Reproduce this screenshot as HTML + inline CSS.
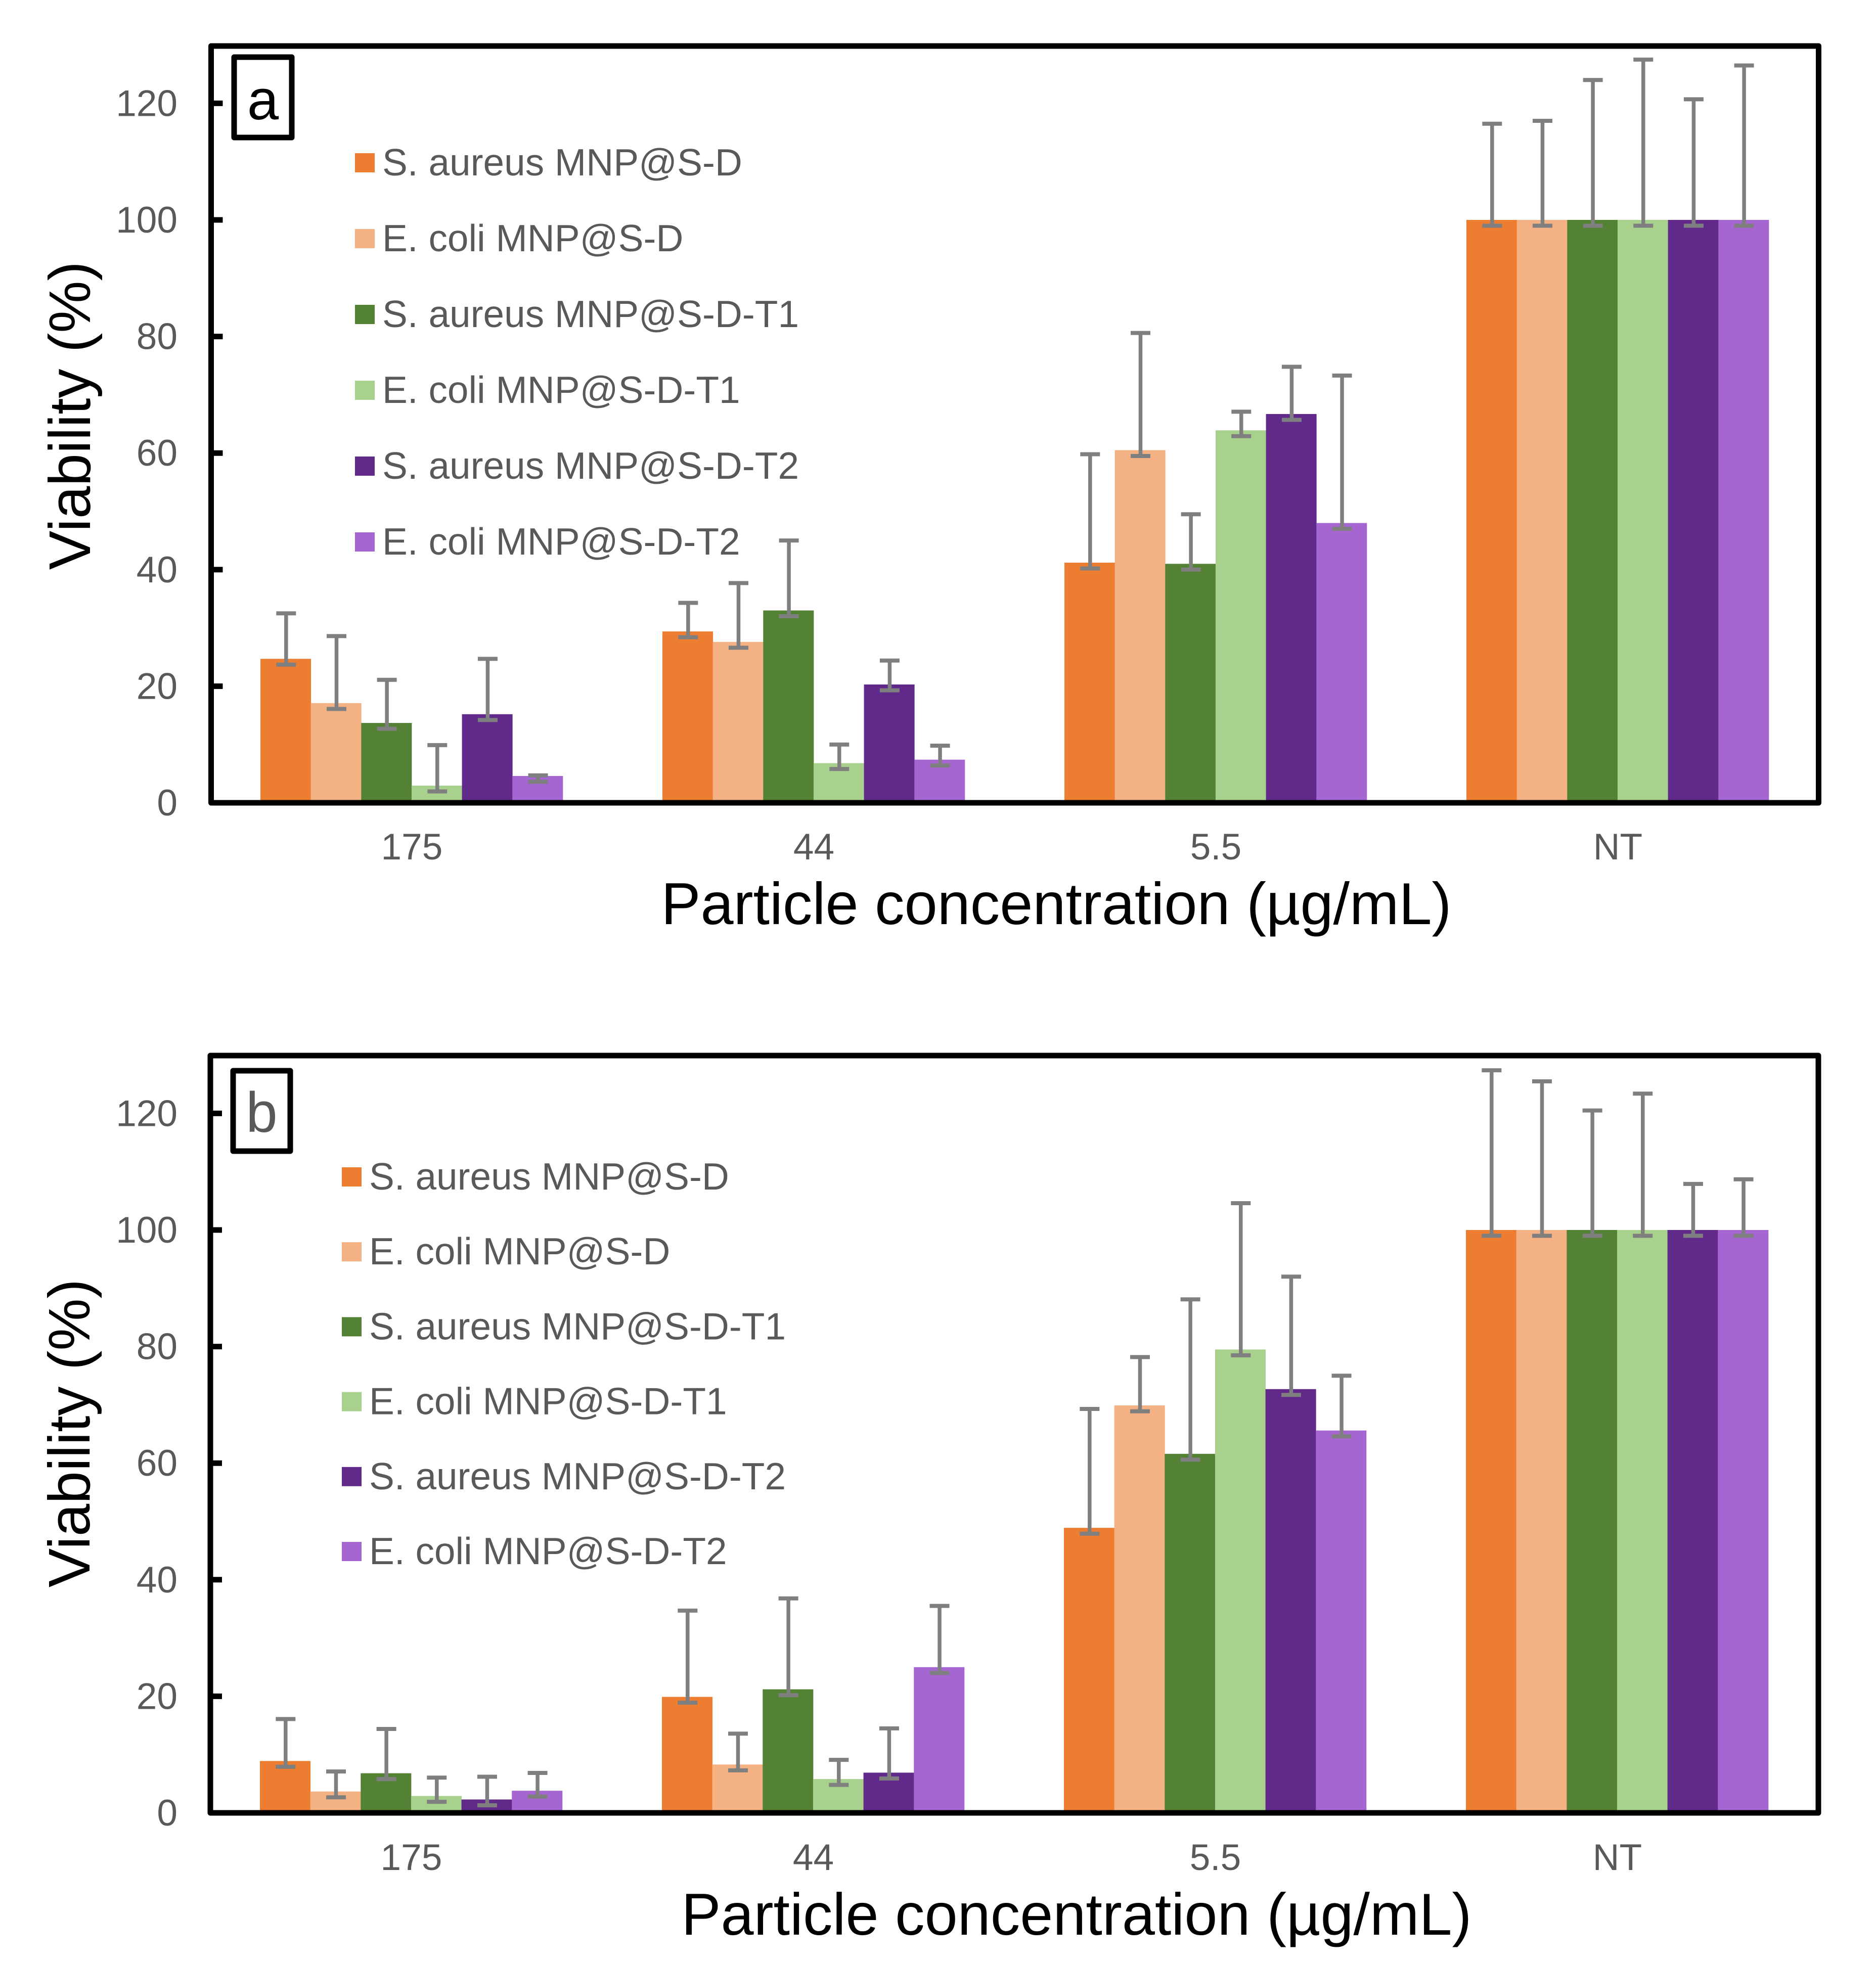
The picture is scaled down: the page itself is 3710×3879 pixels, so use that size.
<!DOCTYPE html>
<html lang="en">
<head>
<meta charset="utf-8">
<title>Viability charts</title>
<style>
html,body{margin:0;padding:0;background:#fff;width:3710px;height:3879px;overflow:hidden}
svg{display:block;font-family:"Liberation Sans",Arial,sans-serif}
</style>
</head>
<body>
<svg id="figure" xmlns="http://www.w3.org/2000/svg" width="3710" height="3879" viewBox="0 0 3710 3879"></svg>
<script>
const categories = ["175", "44", "5.5", "NT"];
const seriesNames = ["S. aureus MNP@S-D", "E. coli MNP@S-D", "S. aureus MNP@S-D-T1", "E. coli MNP@S-D-T1", "S. aureus MNP@S-D-T2", "E. coli MNP@S-D-T2"];
const seriesKeys = ["s-aureus-d", "e-coli-d", "s-aureus-t1", "e-coli-t1", "s-aureus-t2", "e-coli-t2"];
const yTicks = [0, 20, 40, 60, 80, 100, 120];
const yMax = 130;
const lowerError = 1;

const aSaureusD = [24.7, 29.4, 41.2, 100];
const aEcoliD = [17.1, 27.6, 60.5, 100];
const aSaureusT1 = [13.7, 33, 41, 100];
const aEcoliT1 = [2.95, 6.8, 63.9, 100];
const aSaureusT2 = [15.2, 20.3, 66.7, 100];
const aEcoliT2 = [4.6, 7.4, 48, 100];
const aSaureusDErr = [7.8, 4.9, 18.6, 16.5];
const aEcoliDErr = [11.5, 10.1, 20.1, 17];
const aSaureusT1Err = [7.4, 12, 8.5, 24];
const aEcoliT1Err = [6.95, 3.2, 3.2, 27.5];
const aSaureusT2Err = [9.5, 4.1, 8.1, 20.7];
const aEcoliT2Err = [0.1, 2.4, 25.3, 26.5];

const bSaureusD = [8.9, 19.9, 48.9, 100];
const bEcoliD = [3.67, 8.3, 69.9, 100];
const bSaureusT1 = [6.8, 21.2, 61.6, 100];
const bEcoliT1 = [2.9, 5.8, 79.5, 100];
const bSaureusT2 = [2.3, 6.9, 72.7, 100];
const bEcoliT2 = [3.8, 25, 65.6, 100];
const bSaureusDErr = [7.2, 14.8, 20.4, 27.4];
const bEcoliDErr = [3.43, 5.3, 8.3, 25.5];
const bSaureusT1Err = [7.6, 15.6, 26.5, 20.5];
const bEcoliT1Err = [3.15, 3.3, 25.1, 23.4];
const bSaureusT2Err = [3.9, 7.6, 19.3, 7.9];
const bEcoliT2Err = [3.05, 10.5, 9.4, 8.7];

const colors = ["#ED7D31", "#F4B183", "#548235", "#A9D18E", "#612A8A", "#A566D1"];

const SVGNS = "http://www.w3.org/2000/svg";
const root = document.getElementById("figure");

function make(parent, tag, attrs, text) {
  const el = document.createElementNS(SVGNS, tag);
  for (const k in attrs) el.setAttribute(k, attrs[k]);
  if (text !== undefined) el.textContent = text;
  parent.appendChild(el);
  return el;
}

function drawPanel(p) {
  const yScale = v => p.y0 - v * p.yUnit;
  const xBar = (g, s) => p.barStart + g * p.groupStep + s * p.barW;

  const panel = make(root, "g", {});
  
  

  // bars
  p.values.forEach((vals, s) => {
    vals.forEach((v, g) => {
      const bar = make(panel, "rect", {
        x: xBar(g, s), y: yScale(v),
        width: p.barW + 0.4, height: Math.max(0, p.y0 - yScale(v)),
        fill: colors[s]
      });
      
      
    });
  });

  // error bars
  p.values.forEach((vals, s) => {
    vals.forEach((v, g) => {
      const cx = xBar(g, s) + p.barW / 2 + 1;
      const top = yScale(v + p.errors[s][g]);
      const bottom = yScale(v - lowerError);
      const err = make(panel, "g", { stroke: "#7F7F7F", fill: "none" });
      
      
      make(err, "line", { x1: cx, x2: cx, y1: top, y2: bottom, "stroke-width": 7.5 });
      make(err, "line", { x1: cx - 19.5, x2: cx + 19.5, y1: top, y2: top, "stroke-width": 8 });
      make(err, "line", { x1: cx - 19.5, x2: cx + 19.5, y1: bottom, y2: bottom, "stroke-width": 8 });
    });
  });

  // y ticks
  yTicks.forEach(t => {
    const y = yScale(t);
    if (t > 0) {
      const mark = make(panel, "line", { x1: p.frame[0], x2: p.frame[0] + 23, y1: y, y2: y, stroke: "#000", "stroke-width": 11 });
      
      
    }
    const label = make(panel, "text", { x: 351, y: y + p.tickDy, "text-anchor": "end", "font-size": 73, fill: "#595959" }, String(t));
    
    
  });

  // frame
  const frame = make(panel, "rect", {
    x: p.frame[0], y: p.frame[1], width: p.frame[2] - p.frame[0], height: p.frame[3] - p.frame[1],
    fill: "none", stroke: "#000", "stroke-width": p.frameW, "stroke-linejoin": "round"
  });
  
  

  // x labels
  categories.forEach((c, g) => {
    const label = make(panel, "text", {
      x: p.barStart + g * p.groupStep + 3 * p.barW + 0.5, y: p.xLabelY,
      "text-anchor": "middle", "font-size": 73, fill: "#595959"
    }, c);
    
    
  });

  // axis titles
  const xTitle = make(panel, "text", {
    x: p.xTitle[0], y: p.xTitle[1], "text-anchor": "middle", "font-size": 117, fill: "#000"
  }, "Particle concentration (µg/mL)");
  
  

  const yTitle = make(panel, "text", {
    transform: "translate(" + p.yTitle[0] + " " + p.yTitle[1] + ") rotate(-90)",
    "text-anchor": "middle", "font-size": 116, fill: "#000"
  }, "Viability (%)");
  
  

  // panel letter
  const box = make(panel, "rect", {
    x: p.box[0], y: p.box[1], width: p.box[2], height: p.box[3],
    fill: "#fff", stroke: "#000", "stroke-width": 11, "stroke-linejoin": "round"
  });
  
  
  const letter = make(panel, "text", {
    x: p.box[0] + p.box[2] / 2, y: p.letterY, "text-anchor": "middle", "font-size": 112, fill: p.letterFill
  }, p.letter);
  
  

  // legend
  seriesNames.forEach((name, s) => {
    const entry = make(panel, "g", {});
    
    
    const cy = p.legendY + s * p.legendStep;
    const swatch = make(entry, "rect", { x: p.legendX, y: cy - 19, width: 39, height: 38, fill: colors[s] });
    
    
    const t = make(entry, "text", { x: p.legendX + 54, y: cy + 25, "font-size": 74.8, fill: "#595959" }, name);
    
    
  });
}

drawPanel({
  letter: "a", letterFill: "#000", letterY: 236,
  y0: 1588, yUnit: 11.53, barStart: 515, barW: 99.65, groupStep: 795,
  frame: [417.5, 91, 3596.5, 1588], frameW: 11,
  tickDy: 25, xLabelY: 1700, xTitle: [2089, 1828], yTitle: [178, 822],
  box: [463, 113, 114, 159],
  legendX: 702, legendY: 322, legendStep: 150,
  values: [aSaureusD, aEcoliD, aSaureusT1, aEcoliT1, aSaureusT2, aEcoliT2],
  errors: [aSaureusDErr, aEcoliDErr, aSaureusT1Err, aEcoliT1Err, aSaureusT2Err, aEcoliT2Err]
});

drawPanel({
  letter: "b", letterFill: "#595959", letterY: 2239,
  y0: 3586, yUnit: 11.53, barStart: 514, barW: 99.65, groupStep: 795,
  frame: [416, 2088, 3596, 3586], frameW: 11,
  tickDy: 25, xLabelY: 3699, xTitle: [2129, 3827], yTitle: [177, 2835],
  box: [461, 2118, 113, 159],
  legendX: 676, legendY: 2328, legendStep: 148.2,
  values: [bSaureusD, bEcoliD, bSaureusT1, bEcoliT1, bSaureusT2, bEcoliT2],
  errors: [bSaureusDErr, bEcoliDErr, bSaureusT1Err, bEcoliT1Err, bSaureusT2Err, bEcoliT2Err]
});
</script>
</body>
</html>
